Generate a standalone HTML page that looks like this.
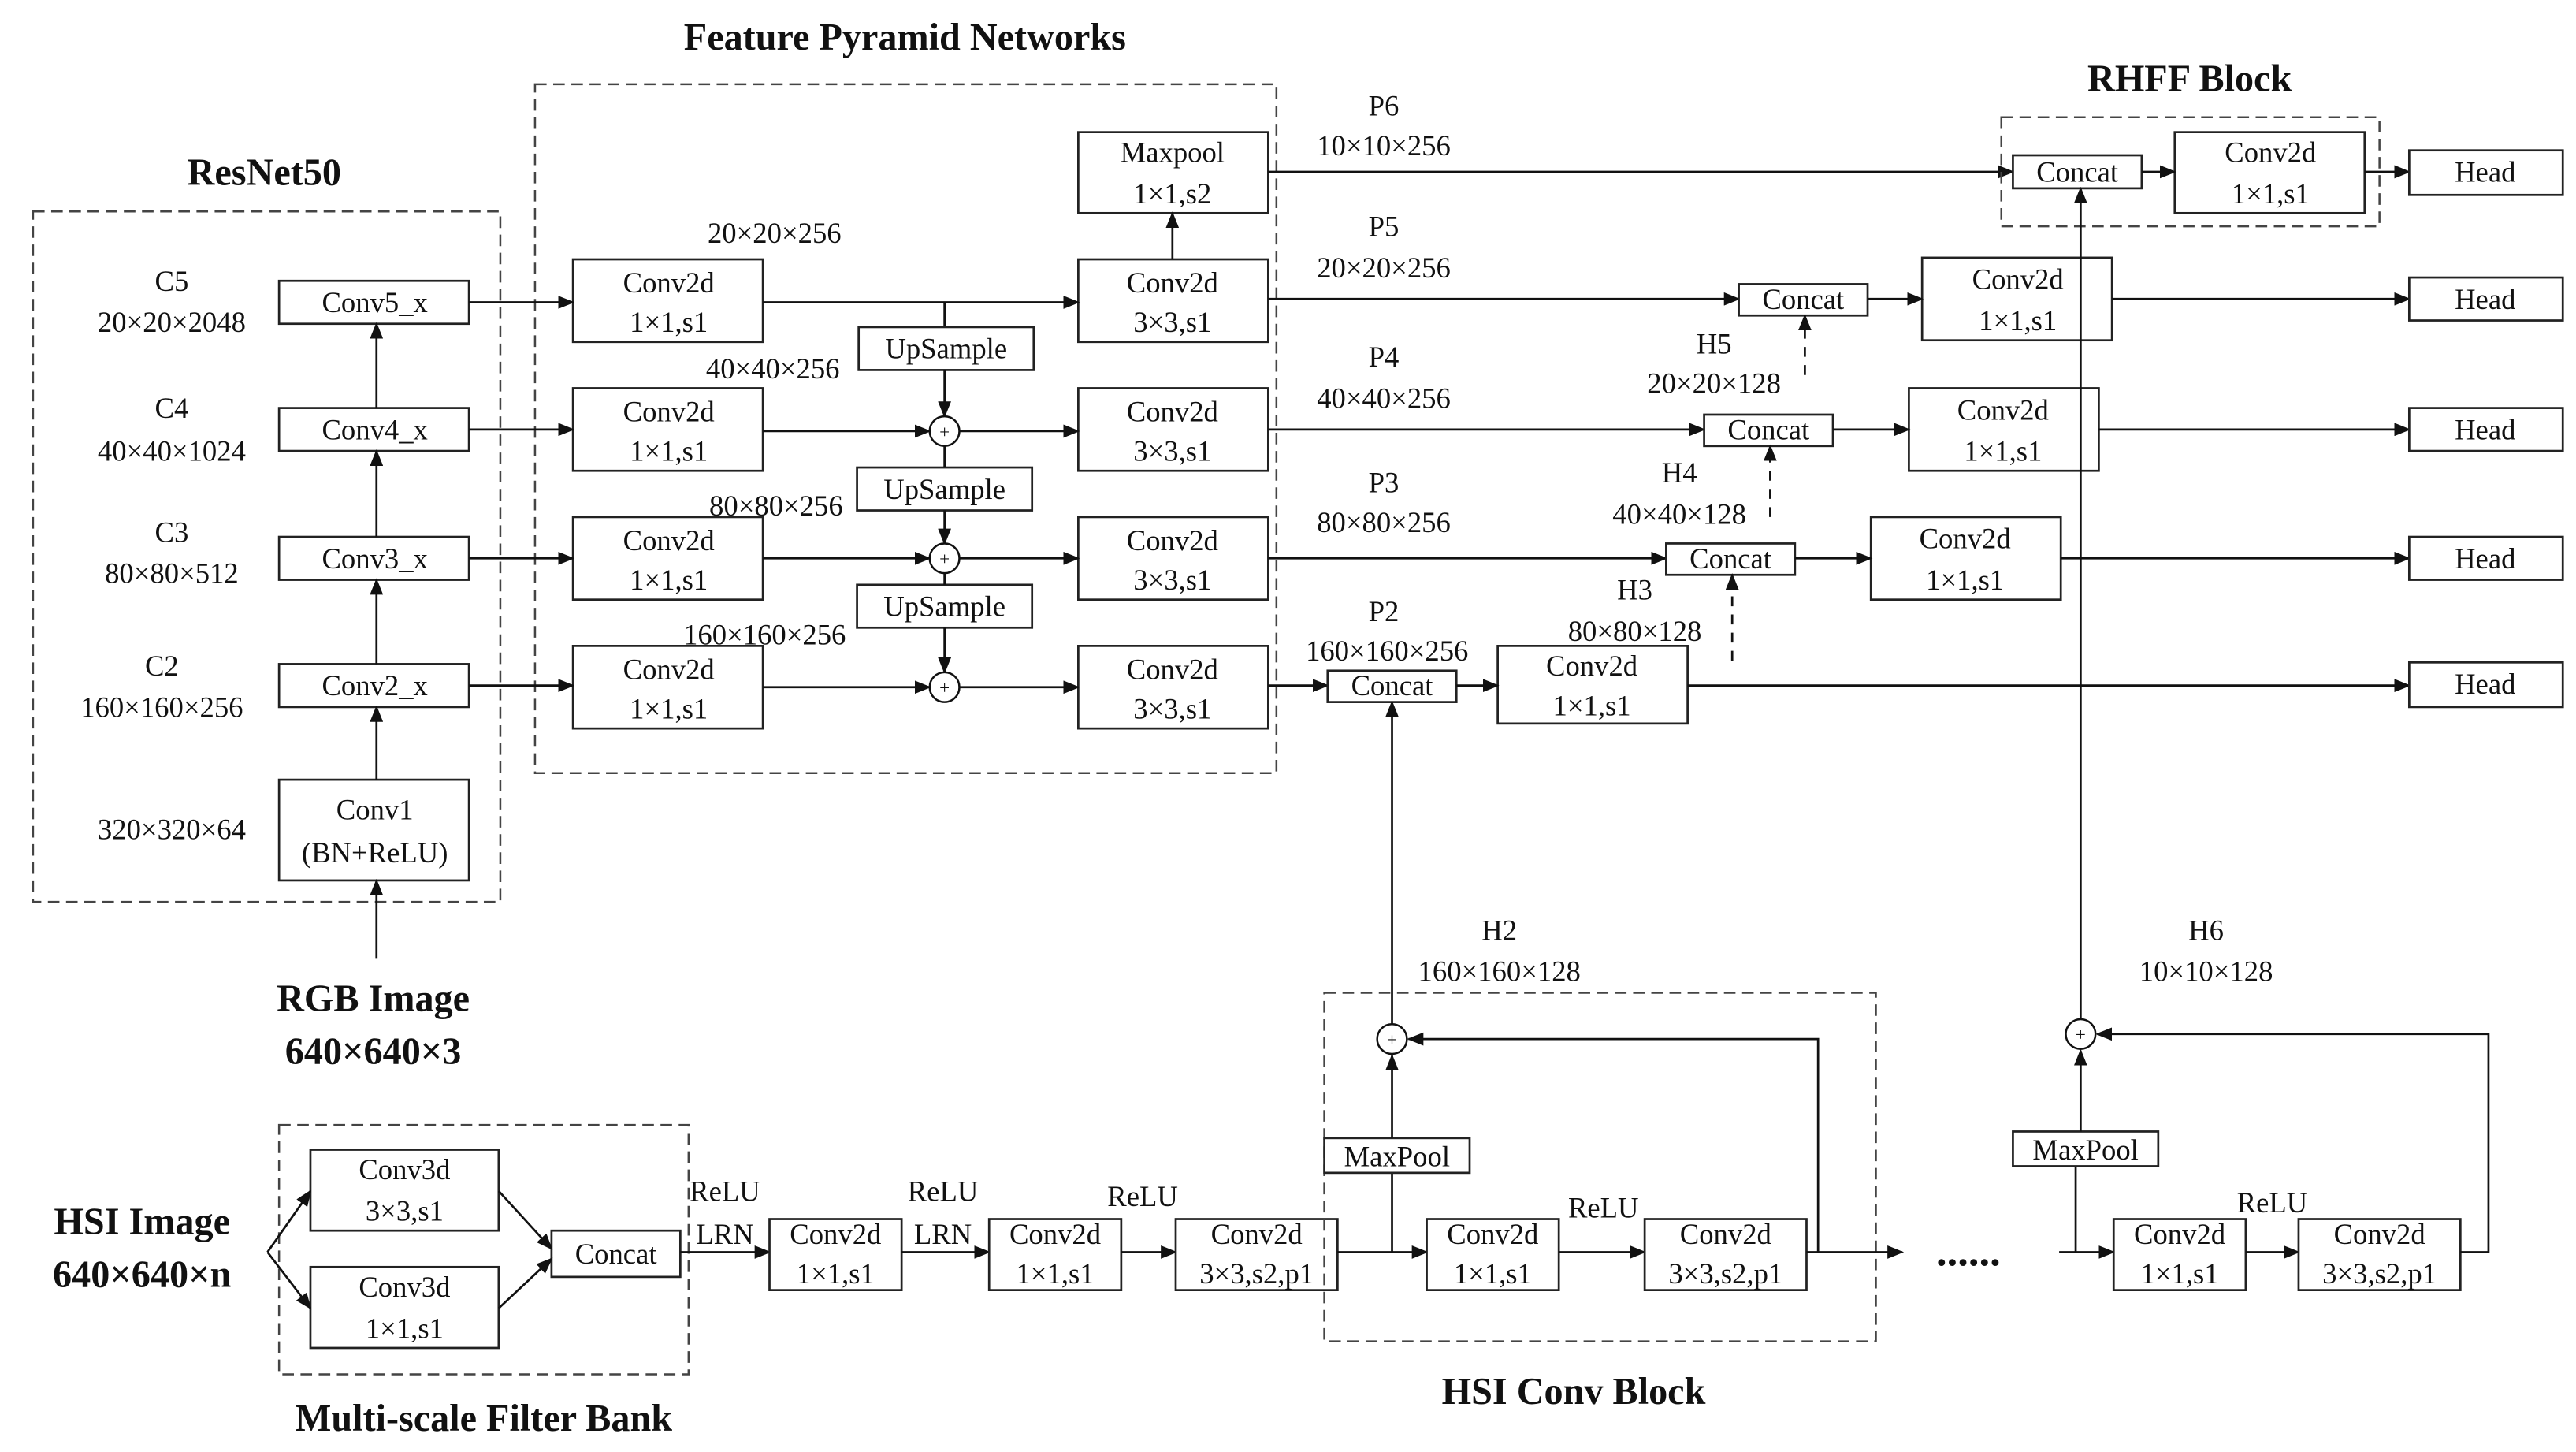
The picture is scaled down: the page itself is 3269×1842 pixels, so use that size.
<!DOCTYPE html>
<html><head><meta charset="utf-8"><style>
html,body{margin:0;padding:0;background:#fff;}
svg{display:block}
text{font-family:"Liberation Serif",serif;font-size:17.5px;fill:#111;}
.b{font-weight:bold;font-size:23px;}
rect{fill:#fff;stroke:#222;stroke-width:1.3}
.d{fill:none;stroke:#444;stroke-width:1.2;stroke-dasharray:7,4}
line,polyline,path{stroke:#111;stroke-width:1.3;fill:none}
.ds{stroke-dasharray:6,5}
circle{fill:#fff;stroke:#111;stroke-width:1.2}
</style></head><body>
<svg width="3269" height="1842" viewBox="0 0 1560 879" preserveAspectRatio="none" xmlns="http://www.w3.org/2000/svg">
<defs><marker id="a" markerWidth="10" markerHeight="8" refX="9" refY="4" orient="auto" markerUnits="userSpaceOnUse"><path d="M0,0 L10,4 L0,8 z" style="fill:#111;stroke:none"/></marker></defs>
<g text-anchor="middle">
<!-- ResNet -->
<rect class="d" x="20" y="128" width="283" height="418"/>
<text class="b" x="160" y="112">ResNet50</text>
<rect x="169" y="170" width="115" height="26"/><text x="227" y="189">Conv5_x</text>
<rect x="169" y="247" width="115" height="26"/><text x="227" y="266">Conv4_x</text>
<rect x="169" y="325" width="115" height="26"/><text x="227" y="344">Conv3_x</text>
<rect x="169" y="402" width="115" height="26"/><text x="227" y="421">Conv2_x</text>
<rect x="169" y="472" width="115" height="61"/><text x="227" y="496">Conv1</text><text x="227" y="522">(BN+ReLU)</text>
<text x="104" y="176">C5</text><text x="104" y="201">20×20×2048</text>
<text x="104" y="253">C4</text><text x="104" y="279">40×40×1024</text>
<text x="104" y="328">C3</text><text x="104" y="353">80×80×512</text>
<text x="98" y="409">C2</text><text x="98" y="434">160×160×256</text>
<text x="104" y="508">320×320×64</text>
<line x1="228" y1="472" x2="228" y2="428" marker-end="url(#a)"/>
<line x1="228" y1="402" x2="228" y2="351" marker-end="url(#a)"/>
<line x1="228" y1="325" x2="228" y2="273" marker-end="url(#a)"/>
<line x1="228" y1="247" x2="228" y2="196" marker-end="url(#a)"/>
<line x1="228" y1="580" x2="228" y2="533" marker-end="url(#a)"/>
<text class="b" x="226" y="612">RGB Image</text><text class="b" x="226" y="644">640×640×3</text>
<!-- FPN -->
<rect class="d" x="324" y="51" width="449" height="417"/>
<text class="b" x="548" y="30">Feature Pyramid Networks</text>
<g>
<rect x="347" y="157" width="115" height="50"/><text x="405" y="177">Conv2d</text><text x="405" y="201">1×1,s1</text>
<rect x="347" y="235" width="115" height="50"/><text x="405" y="255">Conv2d</text><text x="405" y="279">1×1,s1</text>
<rect x="347" y="313" width="115" height="50"/><text x="405" y="333">Conv2d</text><text x="405" y="357">1×1,s1</text>
<rect x="347" y="391" width="115" height="50"/><text x="405" y="411">Conv2d</text><text x="405" y="435">1×1,s1</text>
<rect x="653" y="157" width="115" height="50"/><text x="710" y="177">Conv2d</text><text x="710" y="201">3×3,s1</text>
<rect x="653" y="235" width="115" height="50"/><text x="710" y="255">Conv2d</text><text x="710" y="279">3×3,s1</text>
<rect x="653" y="313" width="115" height="50"/><text x="710" y="333">Conv2d</text><text x="710" y="357">3×3,s1</text>
<rect x="653" y="391" width="115" height="50"/><text x="710" y="411">Conv2d</text><text x="710" y="435">3×3,s1</text>
<rect x="653" y="80" width="115" height="49"/><text x="710" y="98">Maxpool</text><text x="710" y="123">1×1,s2</text>
</g>
<line x1="710" y1="157" x2="710" y2="129" marker-end="url(#a)"/>
<line x1="284" y1="183" x2="347" y2="183" marker-end="url(#a)"/>
<line x1="284" y1="260" x2="347" y2="260" marker-end="url(#a)"/>
<line x1="284" y1="338" x2="347" y2="338" marker-end="url(#a)"/>
<line x1="284" y1="415" x2="347" y2="415" marker-end="url(#a)"/>
<line x1="462" y1="183" x2="653" y2="183" marker-end="url(#a)"/>
<line x1="572" y1="183" x2="572" y2="198"/>
<rect x="520" y="198" width="106" height="26"/><text x="573" y="217">UpSample</text>
<rect x="519" y="283" width="106" height="26"/><text x="572" y="302">UpSample</text>
<rect x="519" y="354" width="106" height="26"/><text x="572" y="373">UpSample</text>
<line x1="572" y1="224" x2="572" y2="252" marker-end="url(#a)"/>
<line x1="572" y1="270" x2="572" y2="283"/>
<line x1="572" y1="309" x2="572" y2="329" marker-end="url(#a)"/>
<line x1="572" y1="347" x2="572" y2="354"/>
<line x1="572" y1="380" x2="572" y2="407" marker-end="url(#a)"/>
<circle cx="572" cy="261" r="9"/><circle cx="572" cy="338" r="9"/><circle cx="572" cy="416" r="9"/>
<g style="font-size:10px"><text x="572" y="265" style="font-size:11px">+</text><text x="572" y="342" style="font-size:11px">+</text><text x="572" y="420" style="font-size:11px">+</text></g>
<line x1="462" y1="261" x2="563" y2="261" marker-end="url(#a)"/><line x1="581" y1="261" x2="653" y2="261" marker-end="url(#a)"/>
<line x1="462" y1="338" x2="563" y2="338" marker-end="url(#a)"/><line x1="581" y1="338" x2="653" y2="338" marker-end="url(#a)"/>
<line x1="462" y1="416" x2="563" y2="416" marker-end="url(#a)"/><line x1="581" y1="416" x2="653" y2="416" marker-end="url(#a)"/>
<text x="469" y="147">20×20×256</text><text x="468" y="229">40×40×256</text><text x="470" y="312">80×80×256</text><text x="463" y="390">160×160×256</text>
<!-- P outputs -->
<text x="838" y="70">P6</text><text x="838" y="94">10×10×256</text>
<text x="838" y="143">P5</text><text x="838" y="168">20×20×256</text>
<text x="838" y="222">P4</text><text x="838" y="247">40×40×256</text>
<text x="838" y="298">P3</text><text x="838" y="322">80×80×256</text>
<text x="838" y="376">P2</text><text x="840" y="400">160×160×256</text>
<line x1="768" y1="104" x2="1219" y2="104" marker-end="url(#a)"/>
<line x1="768" y1="181" x2="1053" y2="181" marker-end="url(#a)"/>
<line x1="768" y1="260" x2="1032" y2="260" marker-end="url(#a)"/>
<line x1="768" y1="338" x2="1009" y2="338" marker-end="url(#a)"/>
<line x1="768" y1="415" x2="804" y2="415" marker-end="url(#a)"/>
<!-- RHFF -->
<rect class="d" x="1212" y="71" width="229" height="66"/>
<text class="b" x="1326" y="55">RHFF Block</text>
<rect x="1219" y="94" width="78" height="20"/><text x="1258" y="110">Concat</text>
<rect x="1317" y="80" width="115" height="49"/><text x="1375" y="98">Conv2d</text><text x="1375" y="123">1×1,s1</text>
<line x1="1297" y1="104" x2="1317" y2="104" marker-end="url(#a)"/>
<line x1="1432" y1="104" x2="1459" y2="104" marker-end="url(#a)"/>
<!-- Concats -->
<rect x="1053" y="172" width="78" height="19"/><text x="1092" y="187">Concat</text>
<rect x="1032" y="251" width="78" height="19"/><text x="1071" y="266">Concat</text>
<rect x="1009" y="329" width="78" height="19"/><text x="1048" y="344">Concat</text>
<rect x="804" y="406" width="78" height="19"/><text x="843" y="421">Concat</text>
<rect x="1164" y="156" width="115" height="50"/><text x="1222" y="175">Conv2d</text><text x="1222" y="200">1×1,s1</text>
<rect x="1156" y="235" width="115" height="50"/><text x="1213" y="254">Conv2d</text><text x="1213" y="279">1×1,s1</text>
<rect x="1133" y="313" width="115" height="50"/><text x="1190" y="332">Conv2d</text><text x="1190" y="357">1×1,s1</text>
<rect x="907" y="391" width="115" height="47"/><text x="964" y="409">Conv2d</text><text x="964" y="433">1×1,s1</text>
<line x1="1131" y1="181" x2="1164" y2="181" marker-end="url(#a)"/>
<line x1="1110" y1="260" x2="1156" y2="260" marker-end="url(#a)"/>
<line x1="1087" y1="338" x2="1133" y2="338" marker-end="url(#a)"/>
<line x1="882" y1="415" x2="907" y2="415" marker-end="url(#a)"/>
<line x1="1279" y1="181" x2="1459" y2="181" marker-end="url(#a)"/>
<line x1="1271" y1="260" x2="1459" y2="260" marker-end="url(#a)"/>
<line x1="1248" y1="338" x2="1459" y2="338" marker-end="url(#a)"/>
<line x1="1022" y1="415" x2="1459" y2="415" marker-end="url(#a)"/>
<rect x="1459" y="91" width="93" height="27"/><text x="1505" y="110">Head</text>
<rect x="1459" y="168" width="93" height="26"/><text x="1505" y="187">Head</text>
<rect x="1459" y="247" width="93" height="26"/><text x="1505" y="266">Head</text>
<rect x="1459" y="325" width="93" height="26"/><text x="1505" y="344">Head</text>
<rect x="1459" y="401" width="93" height="27"/><text x="1505" y="420">Head</text>
<line class="ds" x1="1093" y1="227" x2="1093" y2="191" marker-end="url(#a)"/>
<line class="ds" x1="1072" y1="313" x2="1072" y2="270" marker-end="url(#a)"/>
<line class="ds" x1="1049" y1="400" x2="1049" y2="348" marker-end="url(#a)"/>
<text x="1038" y="214">H5</text><text x="1038" y="238">20×20×128</text>
<text x="1017" y="292">H4</text><text x="1017" y="317">40×40×128</text>
<text x="990" y="363">H3</text><text x="990" y="388">80×80×128</text>
<!-- H6 / H2 -->
<line x1="1260" y1="617" x2="1260" y2="114" marker-end="url(#a)"/>
<line x1="843" y1="620" x2="843" y2="425" marker-end="url(#a)"/>
<text x="908" y="569">H2</text><text x="908" y="594">160×160×128</text>
<text x="1336" y="569">H6</text><text x="1336" y="594">10×10×128</text>
<!-- HSI -->
<text class="b" x="86" y="747">HSI Image</text><text class="b" x="86" y="779">640×640×n</text>
<rect class="d" x="169" y="681" width="248" height="151"/>
<text class="b" x="293" y="866">Multi-scale Filter Bank</text>
<rect x="188" y="696" width="114" height="49"/><text x="245" y="714">Conv3d</text><text x="245" y="739">3×3,s1</text>
<rect x="188" y="767" width="114" height="49"/><text x="245" y="785">Conv3d</text><text x="245" y="810">1×1,s1</text>
<rect x="334" y="745" width="78" height="28"/><text x="373" y="765">Concat</text>
<line x1="162" y1="758" x2="188" y2="721" marker-end="url(#a)"/>
<line x1="162" y1="758" x2="188" y2="792" marker-end="url(#a)"/>
<line x1="302" y1="721" x2="334" y2="756" marker-end="url(#a)"/>
<line x1="302" y1="792" x2="334" y2="762" marker-end="url(#a)"/>
<line x1="412" y1="758" x2="466" y2="758" marker-end="url(#a)"/>
<text x="439" y="727">ReLU</text><text x="439" y="753">LRN</text>
<rect x="466" y="738" width="80" height="43"/><text x="506" y="753">Conv2d</text><text x="506" y="777">1×1,s1</text>
<line x1="546" y1="758" x2="599" y2="758" marker-end="url(#a)"/>
<text x="571" y="727">ReLU</text><text x="571" y="753">LRN</text>
<rect x="599" y="738" width="80" height="43"/><text x="639" y="753">Conv2d</text><text x="639" y="777">1×1,s1</text>
<line x1="679" y1="758" x2="712" y2="758" marker-end="url(#a)"/>
<text x="692" y="730">ReLU</text>
<rect x="712" y="738" width="98" height="43"/><text x="761" y="753">Conv2d</text><text x="761" y="777">3×3,s2,p1</text>
<rect class="d" x="802" y="601" width="334" height="211"/>
<text class="b" x="953" y="850">HSI Conv Block</text>
<line x1="810" y1="758" x2="864" y2="758" marker-end="url(#a)"/>
<line x1="843" y1="758" x2="843" y2="710"/>
<rect x="802" y="689" width="88" height="21"/><text x="846" y="706">MaxPool</text>
<line x1="843" y1="689" x2="843" y2="639" marker-end="url(#a)"/>
<circle cx="843" cy="629" r="9"/><text x="843" y="633" style="font-size:11px">+</text>
<rect x="864" y="738" width="80" height="43"/><text x="904" y="753">Conv2d</text><text x="904" y="777">1×1,s1</text>
<line x1="944" y1="758" x2="996" y2="758" marker-end="url(#a)"/>
<text x="971" y="737">ReLU</text>
<rect x="996" y="738" width="98" height="43"/><text x="1045" y="753">Conv2d</text><text x="1045" y="777">3×3,s2,p1</text>
<line x1="1094" y1="758" x2="1152" y2="758" marker-end="url(#a)"/>
<polyline points="1101,758 1101,629 853,629" marker-end="url(#a)"/>
<text x="1192" y="766" style="font-size:26px;font-weight:bold">......</text>
<line x1="1247" y1="758" x2="1280" y2="758" marker-end="url(#a)"/>
<line x1="1257" y1="758" x2="1257" y2="706"/>
<rect x="1219" y="685" width="88" height="21"/><text x="1263" y="702">MaxPool</text>
<line x1="1260" y1="685" x2="1260" y2="636" marker-end="url(#a)"/>
<circle cx="1260" cy="626" r="9"/><text x="1260" y="630" style="font-size:11px">+</text>
<rect x="1280" y="738" width="80" height="43"/><text x="1320" y="753">Conv2d</text><text x="1320" y="777">1×1,s1</text>
<line x1="1360" y1="758" x2="1392" y2="758" marker-end="url(#a)"/>
<text x="1376" y="734">ReLU</text>
<rect x="1392" y="738" width="98" height="43"/><text x="1441" y="753">Conv2d</text><text x="1441" y="777">3×3,s2,p1</text>
<polyline points="1490,758 1507,758 1507,626 1270,626" marker-end="url(#a)"/>
</g>
</svg>
</body></html>
